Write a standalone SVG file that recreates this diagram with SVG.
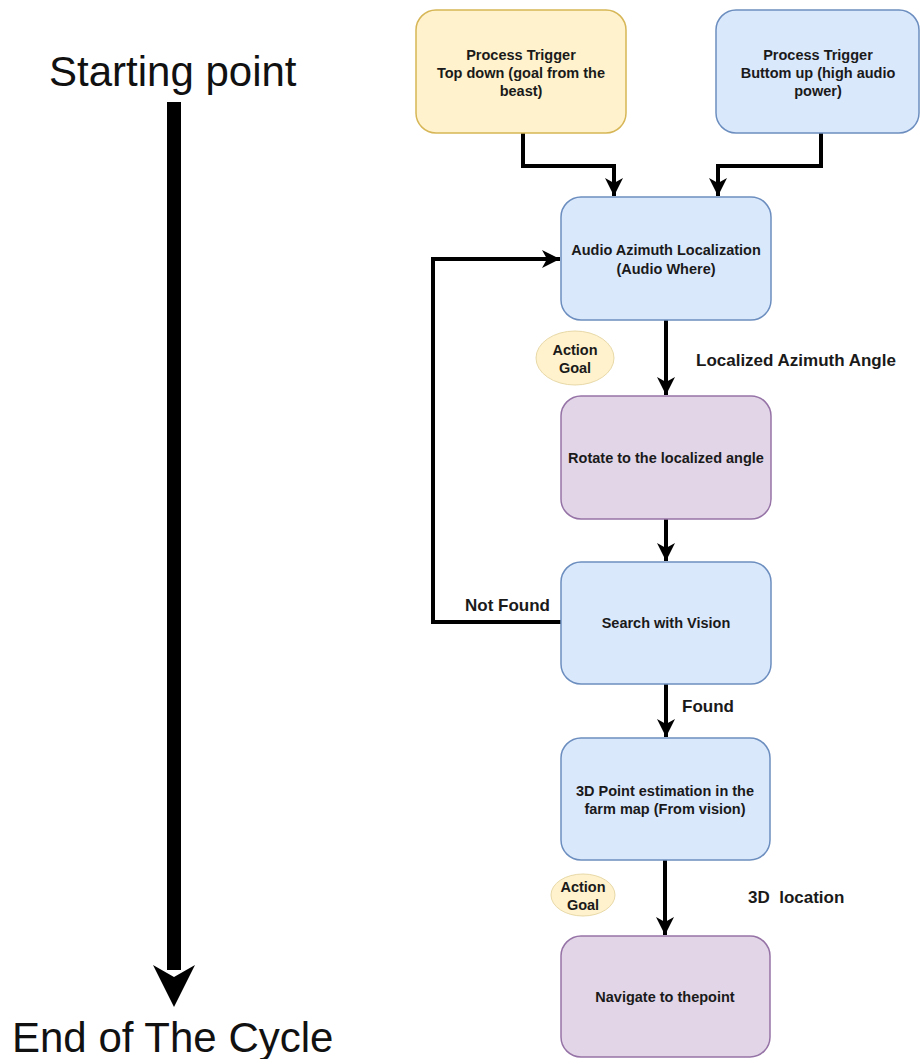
<svg xmlns="http://www.w3.org/2000/svg" width="920" height="1059" viewBox="0 0 920 1059">
  <style>
    .box { stroke-width: 1.5; }
    .yellow { fill: #fff2cc; stroke: #d6b656; }
    .blue { fill: #dae8fc; stroke: #6c8ebf; }
    .purple { fill: #e1d5e7; stroke: #9673a6; }
    .lbl { font-family: "Liberation Sans", Arial, sans-serif; font-size: 14.5px; font-weight: bold; fill: #1a1a1a; text-anchor: middle; }
    .edge-lbl { font-family: "Liberation Sans", Arial, sans-serif; font-size: 17px; font-weight: bold; fill: #1a1a1a; }
    .big { font-family: "Liberation Sans", Arial, sans-serif; font-size: 42px; fill: #111; }
    .wire { fill: none; stroke: #000; stroke-width: 4; }
  </style>
  <defs>
    <marker id="arrow" markerUnits="userSpaceOnUse" markerWidth="20" markerHeight="20" refX="18" refY="10" orient="auto">
      <path d="M0,1 L18,10 L0,19 L5,10 Z" fill="#000"/>
    </marker>
  </defs>

  <rect width="920" height="1059" fill="#ffffff"/>

  <!-- cycle timeline -->
  <g id="timeline">
    <text class="big" x="49" y="86">Starting point</text>
    <rect x="167" y="102" width="14" height="868" fill="#000"/>
    <path d="M174,1007 L153,965 L174,977 L195,965 Z" fill="#000"/>
    <text class="big" x="12" y="1052">End of The Cycle</text>
  </g>

  <!-- connectors -->
  <g id="connectors">
    <path class="wire" d="M523,133 V166 H614 V196" marker-end="url(#arrow)"/>
    <path class="wire" d="M821,133 V166 H718 V196" marker-end="url(#arrow)"/>
    <path class="wire" d="M666,320 V395" marker-end="url(#arrow)"/>
    <path class="wire" d="M666,519 V561" marker-end="url(#arrow)"/>
    <path class="wire" d="M561,622 H433 V259 H560" marker-end="url(#arrow)"/>
    <path class="wire" d="M666,684 V737" marker-end="url(#arrow)"/>
    <path class="wire" d="M665,860 V935" marker-end="url(#arrow)"/>
    <text class="edge-lbl" x="696" y="366">Localized Azimuth Angle</text>
    <text class="edge-lbl" x="465" y="611">Not Found</text>
    <text class="edge-lbl" x="682" y="712">Found</text>
    <text class="edge-lbl" x="748" y="903" xml:space="preserve">3D  location</text>
  </g>

  <g id="trigger-topdown">
    <rect class="box yellow" x="416" y="10" width="210" height="123" rx="20"/>
    <text class="lbl" x="521" y="60">Process Trigger</text>
    <text class="lbl" x="521" y="78">Top down (goal from the</text>
    <text class="lbl" x="521" y="96">beast)</text>
  </g>

  <g id="trigger-bottomup">
    <rect class="box blue" x="716" y="10" width="203" height="123" rx="20"/>
    <text class="lbl" x="818" y="60">Process Trigger</text>
    <text class="lbl" x="818" y="78">Buttom up (high audio</text>
    <text class="lbl" x="818" y="96">power)</text>
  </g>

  <g id="audio-localization">
    <rect class="box blue" x="561" y="197" width="210" height="123" rx="20"/>
    <text class="lbl" x="666" y="255">Audio Azimuth Localization</text>
    <text class="lbl" x="666" y="274">(Audio Where)</text>
  </g>

  <g id="action-goal-1">
    <ellipse cx="575" cy="358" rx="39" ry="27" fill="#fff2cc" stroke="#e8d9a8" stroke-width="1"/>
    <text class="lbl" x="575" y="355">Action</text>
    <text class="lbl" x="575" y="373">Goal</text>
  </g>

  <g id="rotate">
    <rect class="box purple" x="561" y="396" width="210" height="123" rx="20"/>
    <text class="lbl" x="666" y="463">Rotate to the localized angle</text>
  </g>

  <g id="search-vision">
    <rect class="box blue" x="561" y="562" width="210" height="122" rx="20"/>
    <text class="lbl" x="666" y="628">Search with Vision</text>
  </g>

  <g id="point-estimation">
    <rect class="box blue" x="561" y="738" width="209" height="122" rx="20"/>
    <text class="lbl" x="665" y="796">3D Point estimation in the</text>
    <text class="lbl" x="665" y="814">farm map (From vision)</text>
  </g>

  <g id="action-goal-2">
    <ellipse cx="583" cy="895" rx="32" ry="21" fill="#fff2cc" stroke="#e8d9a8" stroke-width="1"/>
    <text class="lbl" x="583" y="892">Action</text>
    <text class="lbl" x="583" y="910">Goal</text>
  </g>

  <g id="navigate">
    <rect class="box purple" x="561" y="936" width="209" height="121" rx="20"/>
    <text class="lbl" x="665" y="1002">Navigate to thepoint</text>
  </g>
</svg>
